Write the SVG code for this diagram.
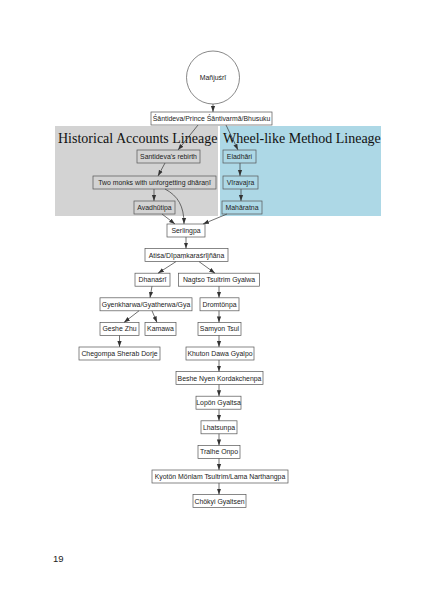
<svg xmlns="http://www.w3.org/2000/svg" width="424" height="599" viewBox="0 0 424 599">
<style>
.n rect{fill:none;stroke:#555;stroke-width:0.7}
.n circle{fill:#fff;stroke:#555;stroke-width:0.7}
.n text{font-family:"Liberation Sans",Arial,sans-serif;font-size:6.9px;fill:#222;text-anchor:middle}
.e path{fill:none;stroke:#333;stroke-width:0.7;marker-end:url(#a)}
.ct{font-family:"Liberation Serif","Times New Roman",serif;font-size:14px;fill:#111}
</style>
<defs>
<marker id="a" viewBox="0 0 10 10" refX="10" refY="5" markerWidth="6" markerHeight="6" markerUnits="userSpaceOnUse" orient="auto">
<path d="M0,1.5 L10,5 L0,8.5 z" fill="#333"/>
</marker>
</defs>
<rect width="424" height="599" fill="#fff"/>
<g id="clusters">
<rect x="55" y="126" width="163" height="90" fill="#d3d3d3"/>
<rect x="220" y="126" width="161" height="90" fill="#add8e6"/>
<text class="ct" x="58" y="143">Historical Accounts Lineage</text>
<text class="ct" x="223" y="143">Wheel-like Method Lineage</text>
</g>
<g id="edges" class="e">
<path d="M213,104 L213,112"/>
<path d="M198,125 L178,150"/>
<path d="M226,125 L238,150"/>
<path d="M165,163 L158,176"/>
<path d="M154,189 L154,201"/>
<path d="M165,189 C178,196 184,206 184,224"/>
<path d="M162,214 L175,224"/>
<path d="M240,163 L240,176"/>
<path d="M241,189 L241,201"/>
<path d="M227,214 L203,224"/>
<path d="M186,237 L186,248.6"/>
<path d="M176,261.6 L158,273.2"/>
<path d="M199,261.6 L215,273.2"/>
<path d="M152,286.2 L150,297.8"/>
<path d="M219,286.2 L219,297.8"/>
<path d="M139,310.8 L124,322.4"/>
<path d="M152,310.8 L157,322.4"/>
<path d="M119.5,335.4 L119.5,347"/>
<path d="M219,310.8 L219,322.4"/>
<path d="M219,335.4 L219,347"/>
<path d="M219,360 L219,371.6"/>
<path d="M219,384.6 L219,396.2"/>
<path d="M219,409.2 L219,420.8"/>
<path d="M219,433.8 L219,445.4"/>
<path d="M219,458.4 L219,470"/>
<path d="M219,483 L219,494.6"/>
</g>
<g id="manjusri" class="n"><circle cx="213" cy="77.5" r="26.5"/><text x="213" y="80">Mañjuśrī</text></g>
<g id="santivarma" class="n"><rect x="151" y="112" width="121" height="13"/><text x="211.5" y="120.9">Śāntideva/Prince Śāntivarmā/Bhusuku</text></g>
<g id="rebirth" class="n"><rect x="137" y="150" width="63" height="13"/><text x="168.5" y="158.9">Santideva's rebirth</text></g>
<g id="twomonks" class="n"><rect x="93" y="176" width="123" height="13"/><text x="154.5" y="184.9">Two monks with unforgetting dhāraṇī</text></g>
<g id="avadhutipa" class="n"><rect x="134" y="201" width="41" height="13"/><text x="154.5" y="209.9">Avadhūtipa</text></g>
<g id="eladhari" class="n"><rect x="223" y="150" width="33" height="13"/><text x="239.5" y="158.9">Eladhāri</text></g>
<g id="viravajra" class="n"><rect x="223" y="176" width="35" height="13"/><text x="240.5" y="184.9">Vīravajra</text></g>
<g id="maharatna" class="n"><rect x="222" y="201" width="40" height="13"/><text x="242" y="209.9">Mahāratna</text></g>
<g id="serlingpa" class="n"><rect x="167" y="224" width="38" height="13"/><text x="186" y="232.9">Serlingpa</text></g>
<g id="atisa" class="n"><rect x="145" y="248.6" width="83" height="13"/><text x="186.5" y="257.5">Atiśa/Dīpaṃkaraśrījñāna</text></g>
<g id="dhanasri" class="n"><rect x="135" y="273.2" width="35" height="13"/><text x="152.5" y="282.1">Dhanaśrī</text></g>
<g id="nagtso" class="n"><rect x="178.5" y="273.2" width="81" height="13"/><text x="219" y="282.1">Nagtso Tsultrim Gyalwa</text></g>
<g id="gyenkharwa" class="n"><rect x="100" y="297.8" width="92" height="13"/><text x="146" y="306.7">Gyenkharwa/Gyatherwa/Gya</text></g>
<g id="dromtonpa" class="n"><rect x="200" y="297.8" width="39" height="13"/><text x="219.5" y="306.7">Dromtönpa</text></g>
<g id="geshezhu" class="n"><rect x="100" y="322.4" width="39" height="13"/><text x="119.5" y="331.3">Geshe Zhu</text></g>
<g id="kamawa" class="n"><rect x="145" y="322.4" width="31" height="13"/><text x="160.5" y="331.3">Kamawa</text></g>
<g id="chegompa" class="n"><rect x="79" y="347" width="81" height="13"/><text x="119.5" y="355.9">Chegompa Sherab Dorje</text></g>
<g id="samyon" class="n"><rect x="198" y="322.4" width="43" height="13"/><text x="219.5" y="331.3">Samyon Tsul</text></g>
<g id="khuton" class="n"><rect x="186" y="347" width="68" height="13"/><text x="220" y="355.9">Khuton Dawa Gyalpo</text></g>
<g id="beshe" class="n"><rect x="176" y="371.6" width="87" height="13"/><text x="219.5" y="380.5">Beshe Nyen Kordakchenpa</text></g>
<g id="lopon" class="n"><rect x="196" y="396.2" width="45" height="13"/><text x="218.5" y="405.1">Lopön Gyaltsa</text></g>
<g id="lhatsunpa" class="n"><rect x="201" y="420.8" width="36" height="13"/><text x="219" y="429.7">Lhatsunpa</text></g>
<g id="tralhe" class="n"><rect x="198" y="445.4" width="42" height="13"/><text x="219" y="454.3">Tralhe Onpo</text></g>
<g id="kyoton" class="n"><rect x="152" y="470" width="136" height="13"/><text x="220" y="478.9">Kyotön Mönlam Tsultrim/Lama Narthangpa</text></g>
<g id="chokyi" class="n"><rect x="193" y="494.6" width="53" height="13"/><text x="219.5" y="503.5">Chökyi Gyaltsen</text></g>
<text x="53" y="562" font-family="Liberation Sans,Arial,sans-serif" font-size="9.5" fill="#222">19</text>
</svg>
